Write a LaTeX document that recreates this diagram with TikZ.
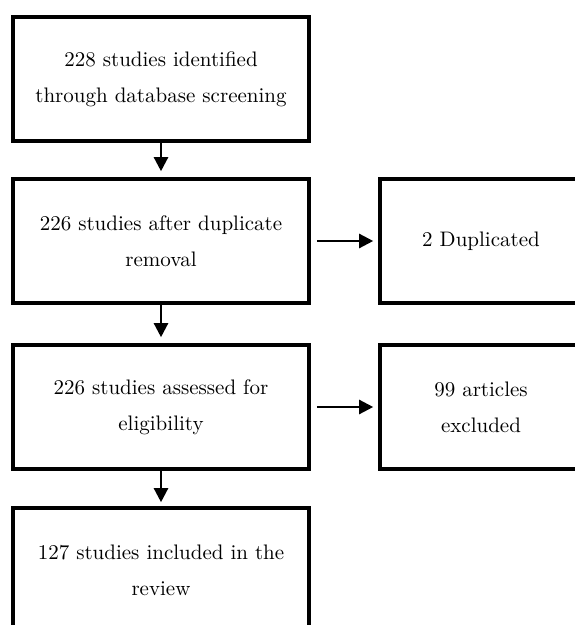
\documentclass[tikz,border=0pt]{standalone}
\usepackage{amsmath}
\usepackage{tikz}
\usetikzlibrary{arrows.meta}

\begin{document}
\begin{tikzpicture}[x=0.5pt, y=-0.5pt,
    stage/.style={draw, line width=1.8pt, minimum width=148pt, minimum height=62pt, align=center, font=\fontsize{10.5}{18}\selectfont},
    side/.style={stage, minimum width=101pt},
    flow/.style={-{Triangle[length=7pt, width=7pt]}, line width=1.2pt}]
    \useasboundingbox (0,0) rectangle (574,625);

    % Main stages
    \node[stage] (found) at (161,79) {228 studies identified\\through database screening};
    \node[stage] (dedup) at (161,241) {226 studies after duplicate\\removal};
    \node[stage] (elig) at (161,407) {226 studies assessed for\\eligibility};
    \node[stage] (incl) at (161,570) {127 studies included in the\\review};

    % Side boxes
    \node[side] (dup) at (481,241) {2 Duplicated};
    \node[side] (excl) at (481,407) {99 articles\\excluded};

    % Arrows down
    \draw[flow, shorten >=3pt] (found) -- (dedup);
    \draw[flow, shorten >=3pt] (dedup) -- (elig);
    \draw[flow, shorten >=2pt] (elig) -- (incl);

    % Arrows to the side
    \draw[flow, shorten <=3pt, shorten >=2.5pt] (dedup) -- (dup);
    \draw[flow, shorten <=3pt, shorten >=2.5pt] (elig) -- (excl);
\end{tikzpicture}
\end{document}
